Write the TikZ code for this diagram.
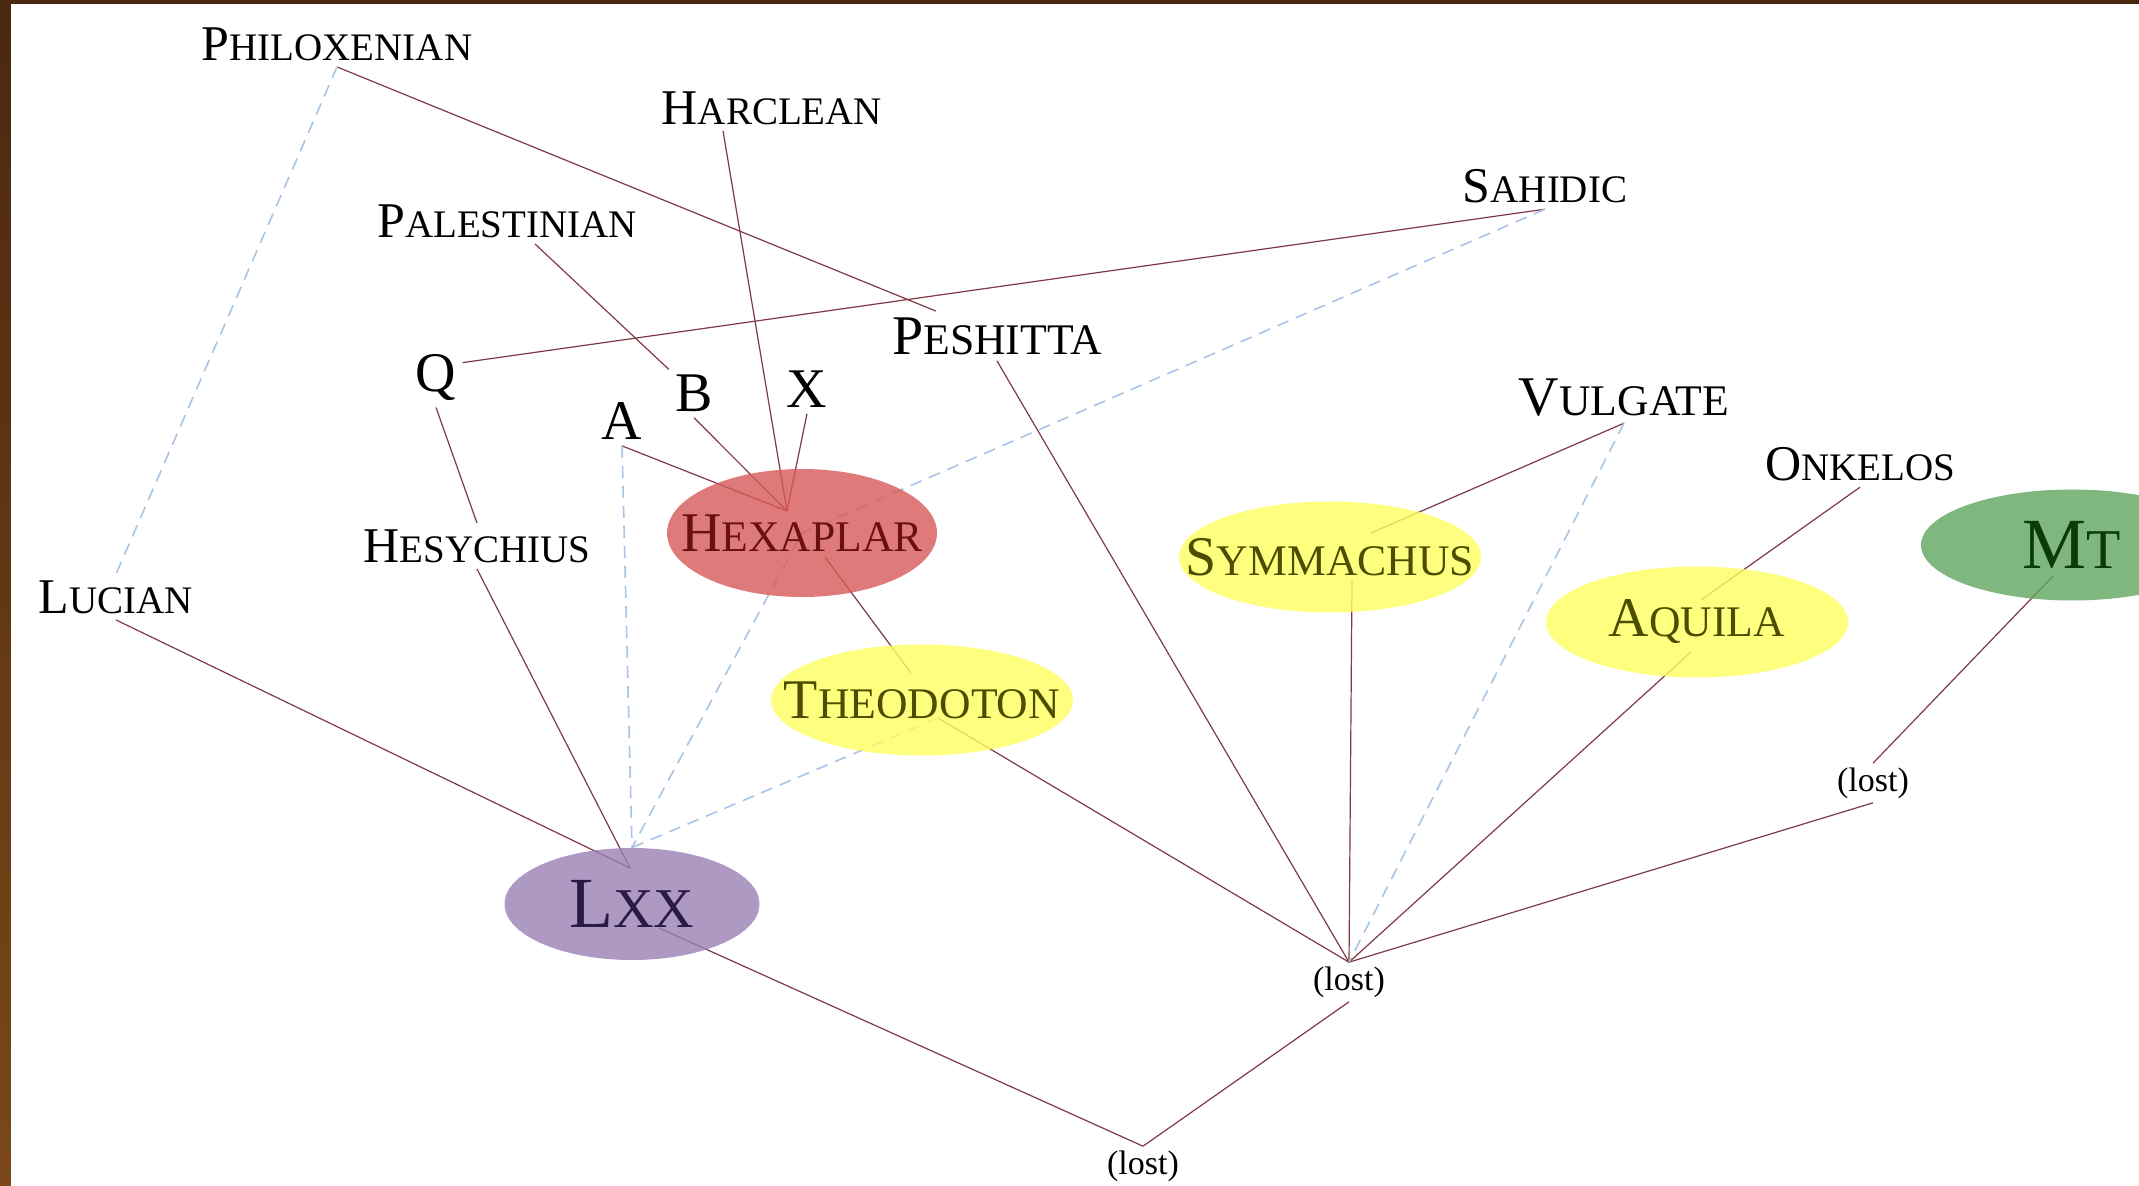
\documentclass[tikz,border=0pt]{standalone}
\usepackage{fontspec}
\usepackage{graphicx}
\setmainfont{Liberation Serif}
\usetikzlibrary{shapes.geometric}
\pgfdeclarelayer{backdrop}
\pgfdeclarelayer{links}
\pgfsetlayers{backdrop,links,main}

\definecolor{frametop}{HTML}{4A2810}
\definecolor{framebot}{HTML}{7A4818}
\definecolor{linkred}{HTML}{7E3A44}
\definecolor{linkblue}{HTML}{A8C4E6}
\definecolor{hexred}{RGB}{216,89,89}
\definecolor{hextext}{HTML}{6B1010}
\definecolor{revyellow}{RGB}{255,255,96}
\definecolor{revtext}{HTML}{4D4D00}
\definecolor{mtgreen}{RGB}{96,166,96}
\definecolor{mttext}{HTML}{0B3B0B}
\definecolor{lxxpurple}{RGB}{154,128,181}
\definecolor{lxxtext}{HTML}{2B1A44}

\newcommand\smcap[2]{#1\scalebox{0.78}{#2}}
\newcommand\ctr[1]{\makebox[0pt]{#1}}

\tikzset{%
    vlabel/.style={inner sep=3pt, font=\fontsize{25}{30}\selectfont},
    vlabelbig/.style={inner sep=3pt, font=\fontsize{28}{32}\selectfont},
    siglum/.style={inner sep=3pt, font=\fontsize{28}{32}\selectfont},
    lostlbl/.style={inner sep=2pt, font=\fontsize{17}{20}\selectfont},
    recension/.style={ellipse, fill opacity=0.8, text opacity=1, inner sep=0pt,
        minimum width=151pt, minimum height=55.5pt, font=\fontsize{28}{32}\selectfont},
    lnk/.style={linkred, line width=0.6pt},
    dlnk/.style={linkblue, line width=0.8pt, dash pattern=on 6pt off 4pt},
}

\begin{document}
\begin{tikzpicture}[x=0.5pt, y=-0.5pt]
    \useasboundingbox (0,0) rectangle (2139,1186);
    \begin{pgfonlayer}{backdrop}
        \shade[top color=frametop, bottom color=framebot] (0,0) rectangle (2139,1186);
        \fill[white] (11,4) rectangle (2139,1186);
    \end{pgfonlayer}

    % versions and manuscripts
    \node[vlabel] (philoxenian) at (337,44) {\smcap{P}{HILOXENIAN}};
    \node[vlabel] (harclean) at (772,108) {\smcap{H}{ARCLEAN}};
    \node[vlabel] (palestinian) at (507,221) {\smcap{P}{ALESTINIAN}};
    \node[vlabel] (sahidic) at (1545,186) {\smcap{S}{AHIDIC}};
    \node[vlabelbig] (peshitta) at (997,336) {\smcap{P}{ESHITTA}};
    \node[vlabelbig] (vulgate) at (1624,398) {\smcap{V}{ULGATE}};
    \node[vlabel] (onkelos) at (1860,464) {\smcap{O}{NKELOS}};
    \node[vlabel] (hesychius) at (477,546) {\smcap{H}{ESYCHIUS}};
    \node[vlabel] (lucian) at (116,597) {\smcap{L}{UCIAN}};
    \node[siglum] (Q) at (436,378) {Q};
    \node[siglum] (B) at (694,393) {B};
    \node[siglum] (X) at (807,389) {X};
    \node[siglum] (A) at (622,421) {A};
    \node[lostlbl] (lost1) at (1873,783) {(lost)};
    \node[lostlbl] (lost2) at (1349,982) {(lost)};
    \node[lostlbl] (lost3) at (1143,1166) {(lost)};

    % recensions
    \node[recension, fill=hexred, text=hextext, minimum width=135pt, minimum height=64pt] (hexaplar) at (802,533) {\ctr{\smcap{H}{EXAPLAR}}};
    \node[recension, fill=revyellow, text=revtext] (symmachus) at (1330,557) {\ctr{\smcap{S}{YMMACHUS}}};
    \node[recension, fill=revyellow, text=revtext] (aquila) at (1697,622) {\ctr{\smcap{A}{QUILA}}};
    \node[recension, fill=revyellow, text=revtext] (theodoton) at (922,700) {\ctr{\smcap{T}{HEODOTON}}};
    \node[recension, fill=mtgreen, text=mttext, font=\fontsize{36}{40}\selectfont] (mt) at (2072,545) {\ctr{\smcap{M}{T}}};
    \node[recension, fill=lxxpurple, text=lxxtext, minimum width=127.5pt, minimum height=56pt, font=\fontsize{36}{40}\selectfont] (lxx) at (632,904) {\ctr{\smcap{L}{XX}}};

    \coordinate (hex-top) at ([shift={(-15,-22)}]hexaplar.center);
    \coordinate (hex-bot) at ([shift={(23,24)}]hexaplar.center);
    \coordinate (theo-top) at ([shift={(-11,-27)}]theodoton.center);
    \coordinate (theo-bot) at ([shift={(16,18)}]theodoton.center);
    \coordinate (sym-top) at ([shift={(41,-24)}]symmachus.center);
    \coordinate (sym-bot) at ([shift={(22,24)}]symmachus.center);
    \coordinate (aq-top) at ([shift={(4,-22)}]aquila.center);
    \coordinate (aq-bot) at ([shift={(-6,30)}]aquila.center);
    \coordinate (mt-bot) at ([shift={(-19,31)}]mt.center);
    \coordinate (lxx-top) at ([shift={(-2,-36)}]lxx.center);
    \coordinate (lxx-bot) at ([shift={(27,24)}]lxx.center);

    \begin{pgfonlayer}{links}
        % dependencies
        \draw[lnk] (philoxenian.south) -- (peshitta);
        \draw[lnk] ([shift={(-49,0)}]harclean.south) -- (hex-top);
        \draw[lnk] ([shift={(28,0)}]palestinian.south) -- (B);
        \draw[lnk] (sahidic.south) -- (Q.30);
        \draw[lnk] (B.south) -- (hex-top);
        \draw[lnk] (X.south) -- (hex-top);
        \draw[lnk] (A.south) -- (hex-top);
        \draw[lnk] (Q.south) -- (hesychius.north);
        \draw[lnk] (hesychius.south) -- (lxx-top);
        \draw[lnk] (lucian.south) -- (lxx-top);
        \draw[lnk] (hex-bot) -- (theo-top);
        \draw[lnk] (theo-bot) -- (lost2.north);
        \draw[lnk] (peshitta.south) -- (lost2.north);
        \draw[lnk] (sym-bot) -- (lost2.north);
        \draw[lnk] (vulgate.south) -- (sym-top);
        \draw[lnk] (onkelos.south) -- (aq-top);
        \draw[lnk] (aq-bot) -- (lost2.north);
        \draw[lnk] (lost1.south) -- (lost2.north);
        \draw[lnk] (mt-bot) -- (lost1.north);
        \draw[lnk] (lxx-bot) -- (lost3.north);
        \draw[lnk] (lost2.south) -- (lost3.north);
        % influences
        \draw[dlnk] (philoxenian.south) -- (lucian.north);
        \draw[dlnk] (sahidic.south) -- (hexaplar.center) -- (lxx.north);
        \draw[dlnk] (A.south) -- (lxx.north);
        \draw[dlnk] (theo-bot) -- (lxx.north);
        \draw[dlnk] (vulgate.south) -- (lost2.north);
    \end{pgfonlayer}
\end{tikzpicture}
\end{document}
